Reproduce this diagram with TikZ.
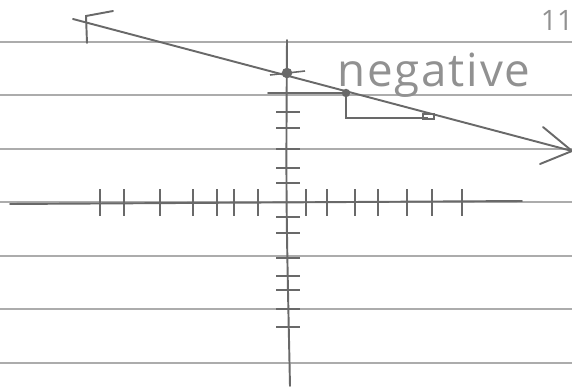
\documentclass[tikz,border=0pt]{standalone}
\usepackage{fontspec}
\setmainfont{Open Sans}
\newfontfamily\handfont[LetterSpace=4]{Open Sans}
\usetikzlibrary{arrows.meta}
\definecolor{pencil}{RGB}{105,105,105}
\definecolor{ruled}{RGB}{172,172,172}
\definecolor{script}{RGB}{145,145,145}

\begin{document}
\begin{tikzpicture}[x=0.02cm,y=-0.02cm,
  pencil line/.style={pencil,line width=1.1pt,line cap=round},
  tickmark/.style={pencil,line width=0.9pt}]
  \useasboundingbox (0,0) rectangle (572,386);
  \foreach \y in {42,95,149,202,256,309,363}
    \draw[ruled,line width=0.7pt] (0,\y) -- (572,\y);
  \coordinate (xl) at (10,204);
  \coordinate (xr) at (522,201);
  \coordinate (yt) at (287,40);
  \coordinate (yb) at (290,386);
  \draw[pencil line] (xl) -- (xr);
  \draw[pencil line] (yt) .. controls (286,200) .. (yb);
  \foreach \x in {100,124,160,193,217,234,258,306,327,355,378,407,432,462}
    \draw[tickmark] (\x,189) -- (\x,216);
  \foreach \y in {112,128,149,168,183,217,233,258,276,290,309,327}
    \draw[tickmark] (276,\y) -- (300,\y);
  \coordinate (P) at (73,19);
  \coordinate (Q) at (572,151);
  \draw[pencil line] (P) -- (Q);
  \draw[pencil line] (543,127) -- (Q) -- (540,164);
  \draw[pencil line] (87,43) -- (86,16) -- (113,11);
  \coordinate (B) at (287,73);
  \coordinate (M) at (346,93);
  \coordinate (R) at (346,118);
  \coordinate (S) at (428,118);
  \draw[tickmark] (270,75) -- (305,71);
  \draw[pencil line] (268,93) -- (M);
  \draw[pencil,line width=0.8pt] (M) -- (R) -- (S);
  \draw[pencil,line width=0.8pt] (423,114) rectangle (434,119);
  \fill[pencil] (B) circle (3pt);
  \fill[pencil] (M) circle (2.4pt);
  \node[script,font=\handfont\fontsize{26}{26}\selectfont] (neg) at (434,75) {negative};
  \node[script,font=\fontsize{16}{16}\selectfont] (page) at (557,20) {11};
\end{tikzpicture}
\end{document}
